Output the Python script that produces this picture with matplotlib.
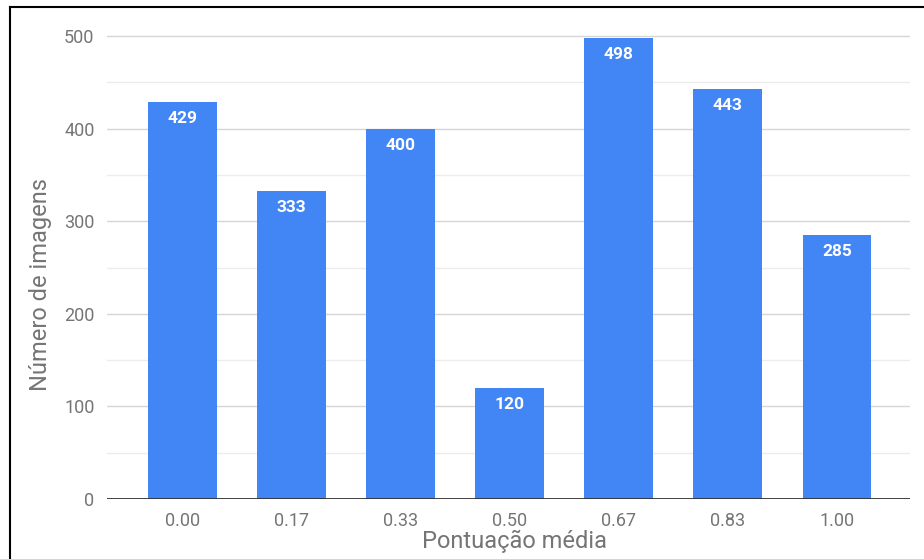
import matplotlib
matplotlib.use("Agg")
import matplotlib.pyplot as plt
from matplotlib.lines import Line2D

categories = ["0.00", "0.17", "0.33", "0.50", "0.67", "0.83", "1.00"]
counts = [429, 333, 400, 120, 498, 443, 285]
y_ticks = [0, 100, 200, 300, 400, 500]
y_minor = [50, 150, 250, 350, 450]

plt.rcParams["font.family"] = ["Roboto", "DejaVu Sans"]

W, H = 924, 559
fig = plt.figure(figsize=(W / 100, H / 100), dpi=100)
fig.patch.set_facecolor("white")

# axes box in pixels: left 107, right 910, top (value 500) at 36, bottom (0) at 499
left, right = 107, 910
y0_px, y500_px = 499, 36
ymax = 500 + (y500_px - 20) / (y0_px - y500_px) * 500  # headroom above 500
top_px = y500_px - (ymax - 500) / 500 * (y0_px - y500_px)
ax = fig.add_axes([left / W, 1 - y0_px / H, (right - left) / W, (y0_px - top_px) / H])

x = list(range(len(categories)))
bars = ax.bar(x, counts, width=0.63, color="#4285F4", zorder=3)

ax.set_xlim(-0.69, 6.67)
ax.set_ylim(0, ymax)

for v in y_minor:
    ax.axhline(v, color="#ececec", lw=1.0, zorder=1)
for v in y_ticks[1:]:
    ax.axhline(v, color="#d6d6d6", lw=1.0, zorder=1)
ax.axhline(0, color="#333333", lw=1.3, zorder=4)

for s in ax.spines.values():
    s.set_visible(False)

ax.set_xticks(x)
ax.set_xticklabels(categories)
ax.set_yticks(y_ticks)
ax.tick_params(axis="both", length=0, labelsize=13, labelcolor="#757575")
ax.tick_params(axis="y", pad=9)
ax.tick_params(axis="x", pad=9)

for rect, v in zip(bars, counts):
    ax.annotate(str(v), (rect.get_x() + rect.get_width() / 2, v),
                xytext=(0, -12), textcoords="offset points",
                ha="center", va="center", color="white",
                fontsize=12.5, fontweight="bold", zorder=5)

fig.text(515 / W, 1 - 541 / H, "Pontuação média", ha="center", va="center",
         fontsize=17, color="#757575")
fig.text(41 / W, 1 - 285 / H, "Número de imagens", ha="center", va="center",
         rotation=90, fontsize=17, color="#757575")

# frame lines along the top and left edges
fig.add_artist(Line2D([10 / W, 10 / W], [0, 1 - 7 / H], transform=fig.transFigure,
                      color="black", lw=1.5))
fig.add_artist(Line2D([10 / W, 1], [1 - 7 / H, 1 - 7 / H], transform=fig.transFigure,
                      color="black", lw=1.5))

fig.savefig("out.png", dpi=100, facecolor="white")
